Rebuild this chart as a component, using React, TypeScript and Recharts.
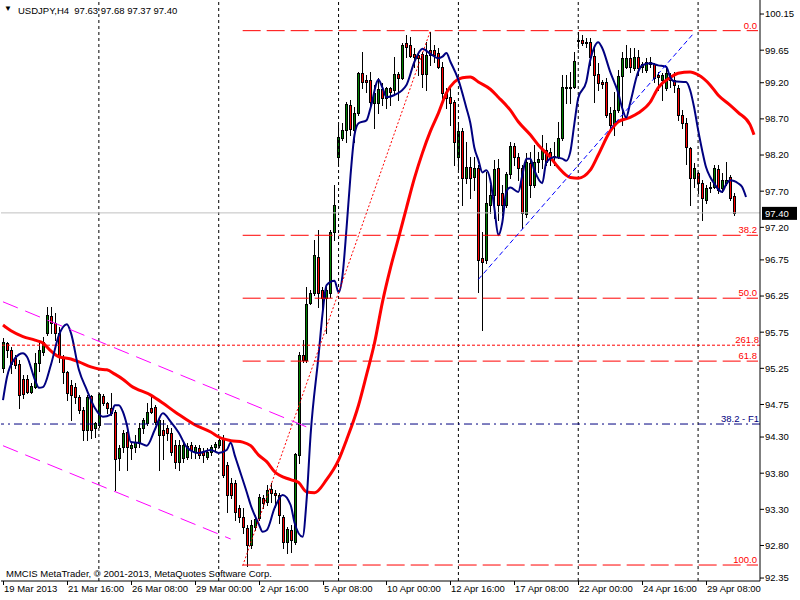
import React from 'react';
import { ComposedChart, Bar, Line, XAxis, YAxis, ReferenceLine } from 'recharts';

const FONT = "Tahoma, 'Liberation Sans', Arial, sans-serif";

const symbol = 'USDJPY,H4';

// H4 bars starting 19 Mar 2013 00:00
const opens = [
  95.25, 95.60, 95.50, 95.39, 95.31, 95.10, 95.10, 94.92, 94.99, 95.32,
  95.47, 95.74, 95.97, 95.88, 95.74, 95.41, 95.20, 95.02, 94.99, 94.85,
  94.67, 94.40, 94.87, 94.42, 94.47, 94.87, 94.77, 94.70, 94.65, 94.01,
  94.16, 94.37, 94.15, 94.16, 94.22, 94.42, 94.49, 94.70, 94.71, 94.33,
  94.40, 94.42, 94.35, 94.19, 93.96, 94.01, 94.02, 94.19, 94.09, 94.15,
  94.09, 94.02, 94.09, 94.16, 94.19, 94.29, 93.91, 93.67, 93.67, 93.32,
  93.19, 93.04, 92.81, 93.05, 93.18, 93.46, 93.40, 93.58, 93.53, 93.50,
  93.19, 92.85, 93.01, 92.85, 94.05, 95.43, 95.37, 96.15, 96.29, 96.79,
  96.33, 96.22, 96.29, 97.13, 98.17, 98.44, 98.55, 98.89, 98.55, 98.78,
  99.33, 99.24, 99.24, 98.92, 98.92, 99.11, 98.99, 99.13, 99.10, 99.32,
  99.27, 99.75, 99.72, 99.60, 99.58, 99.60, 99.32, 99.65, 99.65, 99.61,
  99.42, 99.07, 99.00, 98.93, 98.17, 98.53, 97.88, 98.03, 97.89, 98.02,
  96.78, 96.75, 97.51, 97.65, 98.02, 97.67, 97.51, 97.94, 98.33, 98.17,
  98.02, 97.38, 98.09, 97.79, 98.11, 98.15, 98.27, 98.24, 98.17, 98.17,
  98.44, 99.14, 99.13, 99.14, 99.78, 99.79, 99.76, 99.76, 99.57, 99.32,
  99.21, 99.21, 98.78, 98.62, 98.82, 99.29, 99.42, 99.54, 99.40, 99.56,
  99.42, 99.38, 99.49, 99.46, 99.31, 99.24, 99.13, 99.31, 99.24, 99.13,
  98.75, 98.64, 98.30, 97.88, 97.95, 97.81, 97.58, 97.74, 97.76, 98.00,
  97.74, 97.81, 97.90, 97.63,
];

const highs = [
  95.67, 95.61, 95.55, 95.43, 95.37, 95.16, 95.16, 95.05, 95.46, 95.61,
  95.68, 96.10, 96.10, 96.01, 95.82, 95.43, 95.22, 95.09, 95.05, 94.88,
  94.71, 94.88, 94.88, 94.51, 94.91, 94.90, 94.78, 94.91, 94.67, 94.19,
  94.40, 94.42, 94.23, 94.33, 94.49, 94.56, 94.77, 94.88, 94.74, 94.56,
  94.54, 94.47, 94.42, 94.26, 94.26, 94.22, 94.22, 94.23, 94.19, 94.19,
  94.15, 94.15, 94.19, 94.23, 94.29, 94.33, 93.96, 93.74, 93.71, 93.36,
  93.32, 93.08, 93.15, 93.22, 93.51, 93.50, 93.64, 93.67, 93.57, 93.53,
  93.22, 93.05, 93.08, 94.08, 95.47, 95.64, 96.37, 96.33, 97.02, 97.16,
  96.37, 96.40, 97.16, 97.79, 98.62, 98.64, 98.93, 98.96, 98.86, 99.35,
  99.62, 99.31, 99.35, 99.17, 99.27, 99.20, 99.14, 99.14, 99.56, 99.35,
  99.75, 99.86, 99.83, 99.68, 99.61, 99.62, 99.76, 99.90, 99.72, 99.68,
  99.49, 99.13, 99.14, 98.96, 98.66, 98.57, 98.38, 98.17, 98.17, 98.06,
  97.13, 97.96, 97.79, 98.13, 98.15, 97.79, 97.96, 98.38, 98.37, 98.23,
  98.06, 98.23, 98.24, 98.34, 98.24, 98.48, 98.37, 98.30, 98.38, 98.66,
  99.31, 99.31, 99.35, 99.62, 99.90, 99.86, 99.82, 99.82, 99.69, 99.47,
  99.24, 99.27, 98.86, 99.07, 99.38, 99.62, 99.72, 99.68, 99.68, 99.65,
  99.49, 99.54, 99.56, 99.47, 99.35, 99.33, 99.40, 99.33, 99.35, 99.17,
  98.82, 98.71, 98.31, 98.09, 97.96, 97.85, 97.79, 97.83, 98.06, 98.06,
  97.95, 98.10, 97.93, 97.68,
];

const lows = [
  95.20, 95.41, 95.18, 95.25, 94.70, 94.84, 94.91, 94.91, 94.98, 95.22,
  95.43, 95.71, 95.74, 95.64, 95.34, 95.05, 94.81, 94.54, 94.77, 94.63,
  94.26, 94.26, 94.29, 94.30, 94.44, 94.74, 94.63, 94.61, 93.57, 93.85,
  94.09, 93.85, 93.99, 94.09, 94.16, 94.35, 94.47, 94.63, 94.48, 93.85,
  93.99, 94.26, 94.05, 93.87, 93.85, 93.96, 93.99, 94.01, 94.01, 94.01,
  93.96, 93.99, 94.05, 94.12, 94.16, 93.75, 93.26, 93.46, 93.15, 93.12,
  92.97, 92.52, 92.76, 93.01, 93.15, 93.32, 93.36, 93.40, 93.33, 93.11,
  92.76, 92.70, 92.71, 92.82, 93.94, 95.34, 95.34, 96.14, 96.26, 96.10,
  96.05, 95.74, 96.24, 97.02, 98.06, 98.41, 98.38, 98.48, 98.38, 98.75,
  99.13, 99.07, 98.86, 98.57, 98.78, 98.89, 98.85, 98.89, 99.06, 98.96,
  99.25, 99.56, 99.56, 99.42, 99.31, 99.14, 99.10, 99.45, 99.49, 99.40,
  98.96, 98.85, 98.62, 98.06, 98.00, 97.51, 97.81, 97.60, 97.72, 96.30,
  95.78, 96.71, 97.40, 97.33, 97.30, 97.37, 97.48, 97.88, 98.06, 97.85,
  97.19, 97.34, 97.62, 97.76, 97.96, 98.02, 98.06, 98.06, 98.06, 98.16,
  98.41, 98.92, 98.92, 99.13, 99.68, 99.72, 99.69, 99.45, 98.93, 99.10,
  99.13, 98.73, 98.52, 98.48, 98.79, 98.62, 99.40, 99.35, 99.38, 99.31,
  99.35, 99.35, 99.42, 99.21, 99.10, 98.96, 99.10, 99.14, 99.07, 98.68,
  98.58, 98.08, 97.51, 97.76, 97.67, 97.30, 97.54, 97.69, 97.74, 97.67,
  97.69, 97.79, 97.58, 97.37,
];

const closes = [
  95.61, 95.50, 95.31, 95.30, 94.88, 94.90, 94.92, 95.01, 95.32, 95.50,
  95.61, 95.99, 95.88, 95.74, 95.41, 95.20, 94.91, 94.88, 94.85, 94.67,
  94.40, 94.85, 94.40, 94.49, 94.90, 94.77, 94.70, 94.63, 93.99, 94.15,
  94.36, 94.16, 94.19, 94.23, 94.42, 94.54, 94.65, 94.65, 94.51, 94.54,
  94.33, 94.35, 94.09, 93.96, 94.19, 94.19, 94.18, 94.12, 94.16, 94.05,
  94.05, 94.09, 94.16, 94.20, 94.26, 93.78, 93.50, 93.50, 93.26, 93.19,
  93.05, 92.81, 93.08, 93.17, 93.47, 93.39, 93.57, 93.53, 93.50, 93.22,
  92.85, 93.03, 92.87, 94.07, 95.43, 95.37, 96.14, 96.29, 96.82, 96.29,
  96.22, 96.33, 97.13, 97.51, 98.45, 98.55, 98.91, 98.56, 98.78, 99.33,
  99.21, 99.21, 98.93, 99.06, 99.11, 98.99, 99.13, 99.07, 99.32, 99.27,
  99.72, 99.69, 99.57, 99.56, 99.54, 99.32, 99.58, 99.58, 99.58, 99.42,
  99.06, 98.99, 98.92, 98.38, 98.53, 97.88, 98.03, 97.88, 98.02, 96.75,
  96.72, 97.54, 97.65, 98.00, 97.51, 97.51, 97.94, 98.33, 98.17, 98.02,
  97.40, 98.11, 97.79, 98.11, 98.15, 98.27, 98.11, 98.17, 98.18, 98.44,
  99.14, 99.13, 99.14, 99.50, 99.79, 99.75, 99.75, 99.56, 99.31, 99.20,
  99.18, 98.75, 98.62, 98.82, 99.29, 99.54, 99.54, 99.42, 99.56, 99.40,
  99.46, 99.49, 99.46, 99.27, 99.28, 99.31, 99.33, 99.24, 99.17, 98.75,
  98.64, 98.31, 97.88, 98.02, 97.81, 97.60, 97.74, 97.76, 98.02, 97.72,
  97.85, 97.85, 97.60, 97.40,
];

// fast moving average (navy), [bar, price]
const blueMA: [number, number][] = [
  [0, 94.81], [1, 95.13], [3, 95.39], [5, 95.46], [6, 95.41], [8, 95.09], [9, 94.98], [10, 94.99],
  [12, 95.30], [14, 95.71], [16, 95.86], [17, 95.74], [19, 95.23], [21, 94.95], [23, 94.70], [25, 94.58],
  [27, 94.61], [28, 94.74], [29, 94.74], [30, 94.65], [31, 94.47], [32, 94.23], [34, 94.22], [36, 94.18],
  [38, 94.40], [40, 94.63], [42, 94.51], [44, 94.36], [46, 94.16], [49, 94.08], [52, 94.12], [54, 94.08],
  [56, 94.12], [57, 94.22], [58, 94.05], [59, 93.88], [61, 93.54], [62, 93.36], [64, 93.10], [65, 92.99],
  [66, 93.01], [68, 93.32], [70, 93.50], [72, 93.36], [73, 93.11], [75, 92.92], [76, 93.43], [77, 94.33],
  [79, 95.43], [80, 96.01], [81, 96.40], [83, 96.46], [84, 96.30], [85, 96.54], [86, 97.19], [87, 97.92],
  [88, 98.48], [89, 98.64], [91, 98.68], [92, 98.85], [94, 99.24], [95, 99.13], [96, 99.00], [98, 99.03],
  [101, 99.17], [103, 99.49], [105, 99.67], [107, 99.60], [109, 99.54], [110, 99.56], [111, 99.61], [112, 99.49],
  [114, 99.24], [116, 98.85], [117, 98.64], [118, 98.30], [119, 98.13], [120, 97.96], [121, 97.99], [122, 97.85],
  [123, 97.47], [124, 97.09], [125, 97.27], [126, 97.69], [127, 97.75], [129, 97.69], [130, 97.92], [131, 98.15],
  [132, 98.15], [133, 97.99], [135, 97.81], [136, 98.10], [138, 98.17], [140, 98.15], [141, 98.12], [142, 98.24],
  [143, 98.62], [144, 98.99], [146, 99.21], [147, 99.51], [148, 99.69], [149, 99.76], [150, 99.68], [152, 99.35],
  [153, 99.21], [154, 99.06], [155, 98.85], [156, 98.72], [157, 98.92], [159, 99.35], [160, 99.44], [162, 99.47],
  [164, 99.44], [166, 99.42], [167, 99.28], [168, 99.22], [171, 99.21], [172, 99.10], [173, 98.86], [174, 98.55],
  [175, 98.27], [176, 98.03], [177, 97.90], [178, 97.81], [179, 97.73], [180, 97.69], [181, 97.79], [182, 97.85],
  [183, 97.84], [184, 97.81], [185, 97.76], [186, 97.62],
];

// slow moving average (red), [bar, price]
const redMA: [number, number][] = [
  [0, 95.85], [2, 95.77], [5, 95.69], [8, 95.64], [10, 95.60], [12, 95.49], [14, 95.41], [17, 95.38],
  [19, 95.34], [22, 95.27], [24, 95.24], [26, 95.23], [28, 95.17], [30, 95.10], [32, 95.01], [37, 94.88],
  [40, 94.77], [43, 94.65], [46, 94.54], [48, 94.47], [52, 94.37], [54, 94.30], [57, 94.25], [60, 94.23],
  [62, 94.18], [64, 94.05], [66, 93.96], [68, 93.82], [72, 93.71], [74, 93.67], [76, 93.54], [78, 93.53],
  [81, 93.71], [84, 93.98], [86, 94.26], [89, 94.74], [91, 95.16], [93, 95.60], [95, 96.17], [97, 96.64],
  [99, 97.05], [101, 97.47], [103, 97.88], [105, 98.23], [107, 98.53], [109, 98.78], [111, 99.06], [113, 99.21],
  [115, 99.27], [117, 99.28], [119, 99.21], [122, 99.11], [124, 99.00], [127, 98.82], [129, 98.66], [132, 98.48],
  [134, 98.34], [137, 98.17], [139, 98.03], [142, 97.89], [144, 97.88], [147, 97.99], [149, 98.20], [152, 98.53],
  [154, 98.66], [157, 98.72], [159, 98.78], [162, 98.93], [164, 99.13], [167, 99.27], [169, 99.33], [172, 99.35],
  [174, 99.31], [177, 99.17], [179, 99.03], [182, 98.89], [184, 98.79], [187, 98.62], [188, 98.48],
];

const timeBars = [0, 16, 32, 48, 64, 80, 96, 112, 128, 144, 160, 176];
const timeLabels = [
  '19 Mar 2013', '21 Mar 16:00', '26 Mar 08:00', '29 Mar 00:00', '2 Apr 16:00', '5 Apr 08:00',
  '10 Apr 00:00', '12 Apr 16:00', '17 Apr 08:00', '22 Apr 00:00', '24 Apr 16:00', '29 Apr 08:00',
];
const weekStartBars = [24, 54, 84, 114, 144, 174];
const priceTicks = [
  100.15, 99.65, 99.2, 98.7, 98.2, 97.7, 97.2, 96.75, 96.25, 95.75, 95.25, 94.75, 94.3, 93.8, 93.3, 92.8, 92.35,
];

// fibonacci retracement
const fibNames = ['0.0', '38.2', '50.0', '61.8', '100.0'];
const fibPrices = [99.92, 97.09, 96.22, 95.35, 92.53];
const fibFromBar = 60;
const fibTrend: [number, number][] = [[60, 92.52], [107, 99.92]];

// fibonacci expansion levels
const expansion261 = 95.57;
const expansionF1 = 94.48;

// drawn lines
const channelUpper: [number, number][] = [[0, 96.17], [76, 94.44]];
const channelLower: [number, number][] = [[0, 94.18], [57, 92.89]];
const blueTrend: [number, number][] = [[119, 96.48], [173, 99.89]];

const SLOTS = 190;
const last = closes.length - 1;

const blueMap = new Map(blueMA);
const redMap = new Map(redMA);

const chartData = Array.from({ length: SLOTS }, (_, i) => {
  const has = i <= last;
  return {
    i,
    range: has ? [lows[i], highs[i]] : null,
    open: has ? opens[i] : null,
    high: has ? highs[i] : null,
    low: has ? lows[i] : null,
    close: has ? closes[i] : null,
    blue: blueMap.has(i) ? blueMap.get(i) : null,
    red: redMap.has(i) ? redMap.get(i) : null,
  };
});

const seg = (pts: [number, number][]) => pts.map(([x, y]) => ({ x, y }));

const Candle = (props: any) => {
  const { x, y, width, height, payload } = props;
  if (!payload || payload.open == null || height == null || isNaN(y)) return null;
  const cx = Math.round(x + width / 2);
  const span = payload.high - payload.low;
  const toY = (v: number) => (span > 0 ? y + ((payload.high - v) / span) * height : y);
  const top = Math.round(toY(Math.max(payload.open, payload.close)));
  const bot = Math.round(toY(Math.min(payload.open, payload.close)));
  const bull = payload.close >= payload.open;
  return (
    <g>
      <line x1={cx + 0.5} x2={cx + 0.5} y1={Math.round(y)} y2={Math.round(y + height) + 1} stroke="#000" strokeWidth={1} />
      {bot - top >= 1 ? (
        <rect x={cx - 0.5} y={top + 0.5} width={2} height={bot - top} fill={bull ? '#008000' : '#ff0000'} stroke="#000" strokeWidth={1} />
      ) : (
        <line x1={cx - 1} x2={cx + 2} y1={top + 0.5} y2={top + 0.5} stroke="#000" strokeWidth={1} />
      )}
    </g>
  );
};

const TimeTick = (props: any) => {
  const { x, y, payload } = props;
  const k = timeBars.indexOf(payload.value);
  if (k < 0) return null;
  const px = Math.round(x);
  return (
    <g>
      <line x1={px + 0.5} x2={px + 0.5} y1={y} y2={y + 4} stroke="#000" />
      <text x={px + 1} y={y + 11} fontSize={9.5} fontFamily={FONT} fill="#000">
        {timeLabels[k]}
      </text>
    </g>
  );
};

const EdgeLabel = (props: any) => {
  const { viewBox, text, color } = props;
  if (!viewBox) return null;
  return (
    <text x={viewBox.x + viewBox.width - 1} y={viewBox.y - 2} textAnchor="end" fontSize={9.5} fontFamily={FONT} fill={color}>
      {text}
    </text>
  );
};

const BidLabel = (props: any) => {
  const { viewBox } = props;
  if (!viewBox) return null;
  const right = viewBox.x + viewBox.width;
  return (
    <g>
      <rect x={right + 2} y={viewBox.y - 6} width={35} height={13} fill="#000" />
      <text x={right + 5} y={viewBox.y + 4} fontSize={9.5} fontFamily={FONT} fill="#fff">
        {closes[last].toFixed(2)}
      </text>
    </g>
  );
};

const textStyle: React.CSSProperties = {
  position: 'absolute',
  fontFamily: FONT,
  fontSize: 9.5,
  lineHeight: '10px',
  whiteSpace: 'pre',
  color: '#000',
};

export default function App() {
  const ohlc = [opens[last], highs[last], lows[last], closes[last]].map((v) => v.toFixed(2)).join(' ');
  return (
    <div style={{ position: 'absolute', left: 0, top: 0, width: 800, height: 600, background: '#fff' }}>
      <ComposedChart width={800} height={600} data={chartData} margin={{ top: 0, right: 0, bottom: 0, left: 1 }}>
        <XAxis
          dataKey="i"
          type="category"
          interval={15}
          height={19}
          tickSize={0}
          tickMargin={0}
          tickLine={false}
          axisLine={{ stroke: '#000' }}
          tick={<TimeTick />}
        />
        <YAxis
          orientation="right"
          width={40}
          domain={[92.309, 100.344]}
          allowDataOverflow
          ticks={priceTicks}
          interval={0}
          tickSize={4}
          tickMargin={1}
          axisLine={{ stroke: '#000' }}
          tickLine={{ stroke: '#000' }}
          tickFormatter={(v: number) => v.toFixed(2)}
          tick={{ fill: '#000', fontSize: 9.5, fontFamily: FONT, textAnchor: 'start' }}
        />
        <YAxis yAxisId="frame" orientation="left" width={0} domain={[0, 1]} tick={false} tickLine={false} axisLine={{ stroke: '#000' }} />

        {weekStartBars.map((b) => (
          <ReferenceLine key={'w' + b} x={b} stroke="#000" strokeDasharray="3 3" />
        ))}
        <ReferenceLine y={closes[last]} stroke="#c0c0c0" label={<BidLabel />} />

        <Bar dataKey="range" shape={(p: any) => <Candle {...p} />} isAnimationActive={false} />
        <Line dataKey="red" type="monotone" stroke="#ff0000" strokeWidth={3} dot={false} activeDot={false} connectNulls isAnimationActive={false} />
        <Line dataKey="blue" type="monotone" stroke="#000080" strokeWidth={2} dot={false} activeDot={false} connectNulls isAnimationActive={false} />

        {fibPrices.map((p, k) => (
          <ReferenceLine
            key={'f' + k}
            segment={[{ x: fibFromBar, y: p }, { x: SLOTS - 1, y: p }]}
            stroke="#ff0000"
            strokeDasharray="18 6"
            label={<EdgeLabel text={fibNames[k]} color="#ff0000" />}
          />
        ))}
        <ReferenceLine segment={seg(fibTrend)} stroke="#ff0000" strokeDasharray="2 2" />
        <ReferenceLine y={expansion261} stroke="#ff0000" strokeDasharray="3 2" label={<EdgeLabel text="261.8" color="#ff0000" />} />
        <ReferenceLine y={expansionF1} stroke="#000080" strokeDasharray="8 4 2 4" label={<EdgeLabel text="38.2 - F1" color="#000080" />} />
        <ReferenceLine segment={seg(channelUpper)} stroke="#ff00ff" strokeDasharray="16 8" />
        <ReferenceLine segment={seg(channelLower)} stroke="#ff00ff" strokeDasharray="16 8" />
        <ReferenceLine segment={seg(blueTrend)} stroke="#0000ff" strokeDasharray="5 3" />
      </ComposedChart>

      <div style={{ ...textStyle, left: 4, top: 4, fontSize: 8 }}>▼</div>
      <div style={{ ...textStyle, left: 18, top: 6 }}>{symbol + '  ' + ohlc}</div>
      <div style={{ ...textStyle, left: 6, top: 569 }}>MMCIS MetaTrader, © 2001-2013, MetaQuotes Software Corp.</div>
    </div>
  );
}
